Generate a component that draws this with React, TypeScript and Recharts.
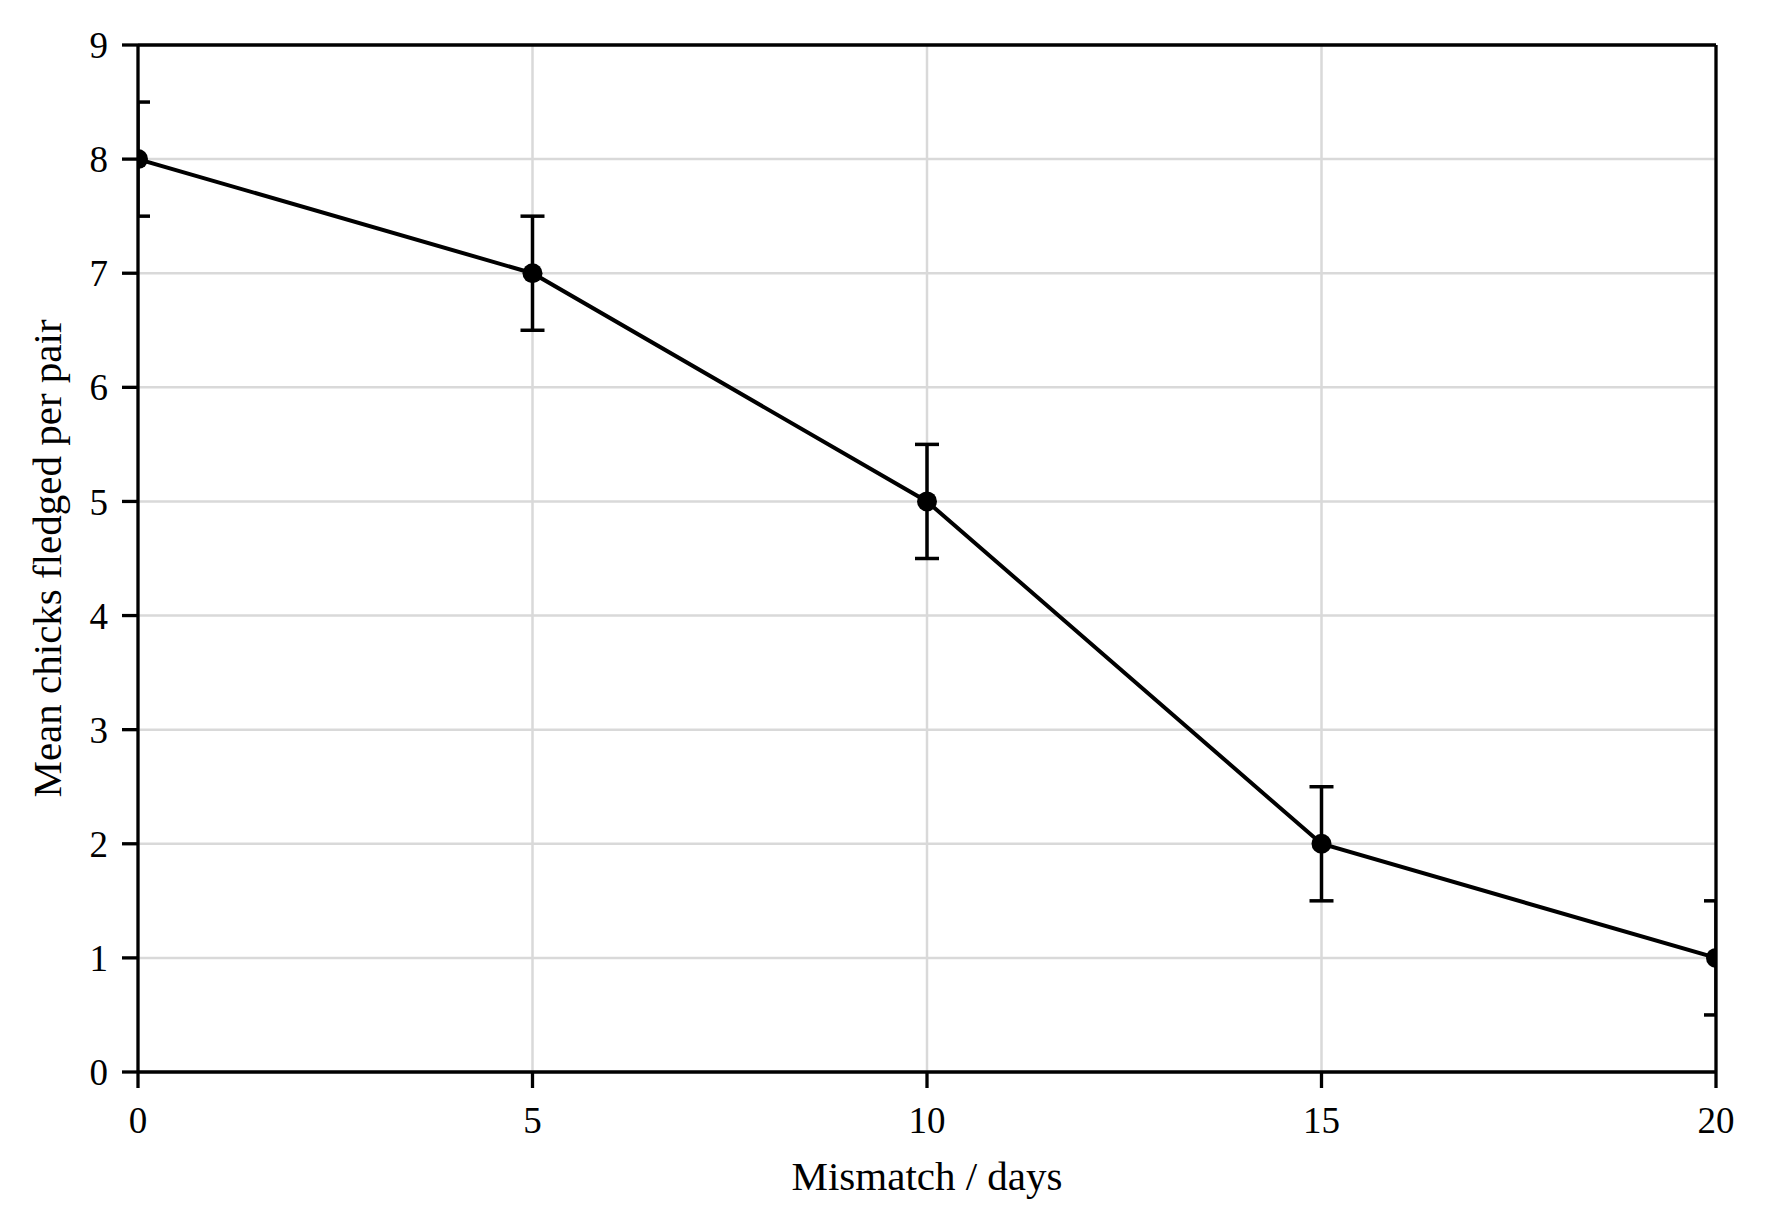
import * as R from 'recharts';
import {
  LineChart, Line, XAxis, YAxis, CartesianGrid, ErrorBar, ReferenceLine
} from 'recharts';

// Values
const mismatchDays = [0, 5, 10, 15, 20];
const meanChicks = [8, 7, 5, 2, 1];
const chickErrors = [0.5, 0.5, 0.5, 0.5, 0.5];

const xTicks = [0, 5, 10, 15, 20];
const yTicks = [0, 1, 2, 3, 4, 5, 6, 7, 8, 9];
const xDomain = [0, 20];
const yDomain = [0, 9];

const xLabel = 'Mismatch / days';
const yLabel = 'Mean chicks fledged per pair';

const data = mismatchDays.map((d, i) => ({
  days: d,
  chicks: meanChicks[i],
  err: chickErrors[i],
}));

const FONT = '"Liberation Serif", "Times New Roman", serif';
const INK = '#000000';

const W = 1767;
const H = 1229;
const MARGIN = { top: 45, right: 51, left: 0, bottom: 0 };
const Y_AXIS_W = 138;
const X_AXIS_H = 157;

// clip series + error bars to the plot box, like matplotlib does
function PlotClip() {
  const hook = (R as any).usePlotArea;
  const area = hook ? hook() : null;
  const box = area || {
    x: Y_AXIS_W,
    y: MARGIN.top,
    width: W - Y_AXIS_W - MARGIN.right,
    height: H - MARGIN.top - X_AXIS_H,
  };
  return (
    <defs>
      <clipPath id="plot-clip">
        <rect x={box.x} y={box.y} width={box.width} height={box.height} />
      </clipPath>
    </defs>
  );
}

const css = `
.recharts-line, .recharts-line-dots, .recharts-errorBar, .recharts-errorBars {
  clip-path: url(#plot-clip);
}
`;

export default function App() {
  return (
    <div style={{ position: 'absolute', left: 0, top: 0, background: '#fff' }}>
      <style>{css}</style>
      <LineChart width={W} height={H} data={data} margin={MARGIN}>
        <PlotClip />
        <CartesianGrid stroke="#d9d9d9" strokeWidth={2.5} />
        <Line
          type="linear"
          dataKey="chicks"
          stroke={INK}
          strokeWidth={4}
          dot={{ r: 10, fill: INK, stroke: 'none' }}
          activeDot={false}
          isAnimationActive={false}
        >
          <ErrorBar
            dataKey="err"
            direction="y"
            width={12}
            stroke={INK}
            strokeWidth={3.5}
            isAnimationActive={false}
          />
        </Line>
        {/* top and right spines */}
        <ReferenceLine x={xDomain[1]} stroke={INK} strokeWidth={3.3} ifOverflow="visible" />
        <ReferenceLine y={yDomain[1]} stroke={INK} strokeWidth={3.3} ifOverflow="visible" />
        <XAxis
          dataKey="days"
          type="number"
          domain={xDomain}
          ticks={xTicks}
          allowDataOverflow
          height={X_AXIS_H}
          tickSize={16}
          tickMargin={19}
          axisLine={{ stroke: INK, strokeWidth: 3.3 }}
          tickLine={{ stroke: INK, strokeWidth: 3.3 }}
          tick={{ fill: INK, fontSize: 37, fontFamily: FONT }}
          label={{
            content: (props: any) => {
              const vb = props.viewBox;
              return (
                <text
                  x={vb.x + vb.width / 2}
                  y={vb.y + 118}
                  textAnchor="middle"
                  fill={INK}
                  fontSize={41}
                  fontFamily={FONT}
                >
                  {xLabel}
                </text>
              );
            },
          }}
        />
        <YAxis
          type="number"
          domain={yDomain}
          ticks={yTicks}
          allowDataOverflow
          width={Y_AXIS_W}
          tickSize={16}
          tickMargin={14}
          axisLine={{ stroke: INK, strokeWidth: 3.3 }}
          tickLine={{ stroke: INK, strokeWidth: 3.3 }}
          tick={{ fill: INK, fontSize: 37, fontFamily: FONT }}
          label={{
            content: (props: any) => {
              const vb = props.viewBox;
              const cx = vb.x + 47;
              const cy = vb.y + vb.height / 2;
              return (
                <text
                  x={cx}
                  y={cy}
                  transform={`rotate(-90 ${cx} ${cy})`}
                  textAnchor="middle"
                  dominantBaseline="central"
                  fill={INK}
                  fontSize={41}
                  fontFamily={FONT}
                >
                  {yLabel}
                </text>
              );
            },
          }}
        />
      </LineChart>
    </div>
  );
}
